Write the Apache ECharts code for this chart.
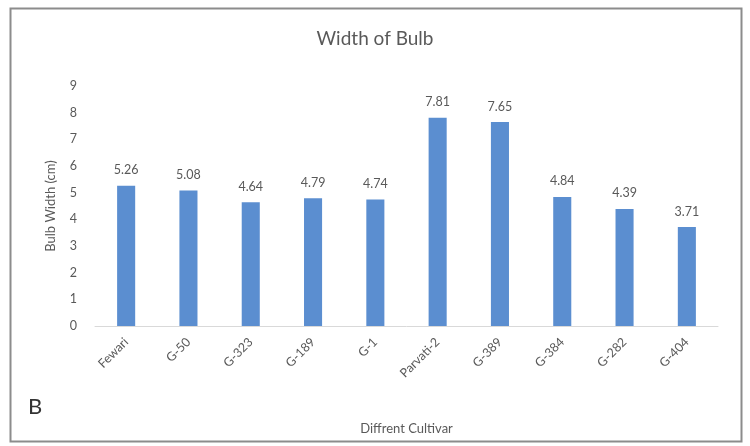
<!DOCTYPE html>
<html>
<head>
<meta charset="utf-8">
<script src="https://cdn.jsdelivr.net/npm/echarts@6/dist/echarts.min.js"></script>
<style>
  html, body { margin: 0; padding: 0; background: #fff; }
  #chart { width: 750px; height: 446px; }
</style>
</head>
<body>
<div id="chart"></div>
<script>
// Bulb width per cultivar (cm)
const cultivars = ['Fewari', 'G-50', 'G-323', 'G-189', 'G-1', 'Parvati-2', 'G-389', 'G-384', 'G-282', 'G-404'];
const bulbWidth = [5.26, 5.08, 4.64, 4.79, 4.74, 7.81, 7.65, 4.84, 4.39, 3.71];
const yTicks = [0, 1, 2, 3, 4, 5, 6, 7, 8, 9];

const font = 'Lato, "Open Sans", sans-serif';
const textGray = '#595959';

const chart = echarts.init(document.getElementById('chart'), null, { renderer: 'canvas' });
chart.setOption({
  animation: false,
  backgroundColor: '#ffffff',
  title: {
    text: 'Width of Bulb',
    left: 'center',
    top: 24,
    textStyle: { fontFamily: font, fontSize: 19, fontWeight: 'normal', color: textGray }
  },
  graphic: [
    {
      type: 'rect',
      shape: { x: 10.5, y: 8.5, width: 731, height: 433 },
      style: { fill: 'none', stroke: '#8c8c8c', lineWidth: 2 },
      silent: true
    },
    {
      type: 'text',
      left: 28,
      top: 396,
      style: { text: 'B', fontFamily: font, fontSize: 22, fill: '#333333' }
    }
  ],
  grid: { left: 95, right: 32, top: 86, bottom: 120 },
  xAxis: {
    type: 'category',
    data: cultivars,
    name: 'Diffrent Cultivar',
    nameLocation: 'middle',
    nameGap: 96,
    nameTextStyle: { fontFamily: font, fontSize: 13, color: textGray },
    axisLine: { lineStyle: { color: '#d9d9d9', width: 1 } },
    axisTick: { show: false },
    axisLabel: {
      rotate: 45,
      interval: 0,
      margin: 14,
      fontFamily: font,
      fontSize: 12.5,
      color: textGray
    }
  },
  yAxis: {
    type: 'value',
    min: yTicks[0],
    max: yTicks[yTicks.length - 1],
    interval: 1,
    name: 'Bulb Width (cm)',
    nameLocation: 'middle',
    nameGap: 38,
    nameRotate: 90,
    nameTextStyle: { fontFamily: font, fontSize: 13, color: textGray },
    axisLine: { show: false },
    axisTick: { show: false },
    splitLine: { show: false },
    axisLabel: { fontFamily: font, fontSize: 12.5, color: textGray, margin: 18 }
  },
  series: [{
    type: 'bar',
    data: bulbWidth,
    barWidth: '29%',
    itemStyle: { color: '#5b8ed0' },
    label: {
      show: true,
      position: 'top',
      distance: 9,
      fontFamily: font,
      fontSize: 12.5,
      color: textGray,
      formatter: p => p.value.toFixed(2)
    }
  }]
});
</script>
</body>
</html>
